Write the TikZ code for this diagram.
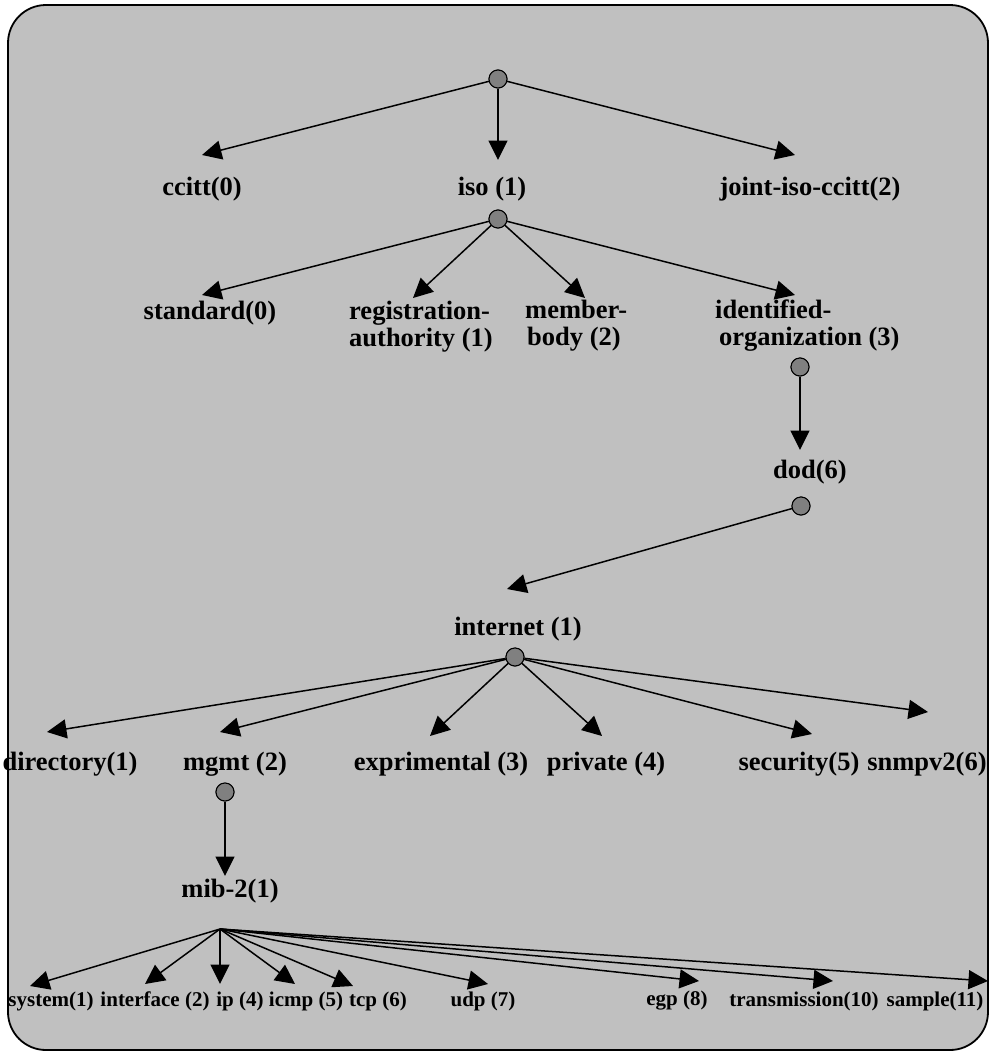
\documentclass[tikz,border=0pt]{standalone}
\usepackage{fontspec}
\setmainfont{Liberation Serif}
\usetikzlibrary{arrows.meta}
\definecolor{bg}{HTML}{C0C0C0}
\definecolor{dotc}{HTML}{808080}
\begin{document}
\begin{tikzpicture}[x=1pt,y=-1pt,
  big/.style={font=\fontsize{26.5}{27}\selectfont\bfseries, inner sep=0pt, align=left},
  small/.style={font=\fontsize{21}{22}\selectfont\bfseries, inner sep=0pt},
  dot/.style={circle, fill=dotc, draw=black, line width=1pt, minimum size=18pt, inner sep=0pt},
  edge/.style={line width=1.5pt, -{Triangle[length=19.5pt,width=19pt]}}]
\useasboundingbox (0,0) rectangle (990,1058);
\draw[fill=bg, line width=1.8pt, rounded corners=38pt] (8,5) rectangle (988,1050);

% circles
\node[dot] (root) at (498,79) {};
\node[dot] (ciso) at (498,219) {};
\node[dot] (cido) at (800,367) {};
\node[dot] (cdod) at (801,506) {};
\node[dot] (cint) at (515,657) {};
\node[dot] (cmgmt) at (225,792) {};
\coordinate (cmib) at (220,929);

% labels
\node[big] (ccitt) at (202,189) {ccitt(0)};
\node[big] (iso) at (492,189) {iso (1)};
\node[big] (joint) at (810,189) {joint-iso-ccitt(2)};
\node[big] (standard) at (210,313) {standard(0)};
\node[big, anchor=west] (reg) at (349,326.5) {registration-\\authority (1)};
\node[big, anchor=west] (member) at (525,325.5) {member-\\\hspace*{2pt}body (2)};
\node[big, anchor=west] (ident) at (715,325.5) {identified-\\\hspace*{4pt}organization (3)};
\node[big] (dod) at (810,472) {dod(6)};
\node[big] (internet) at (518,629) {internet (1)};
\node[big] (directory) at (70,764) {directory(1)};
\node[big] (mgmt) at (235,764) {mgmt (2)};
\node[big] (expr) at (441,764) {exprimental (3)};
\node[big] (private) at (606,764) {private (4)};
\node[big] (security) at (799,764) {security(5)};
\node[big] (snmpv2) at (927,764) {snmpv2(6)};
\node[big] (mib) at (230,891) {mib-2(1)};
\node[small] (system) at (51,1001) {system(1)};
\node[small] (interface) at (155,1001) {interface (2)};
\node[small] (ip) at (240,1001) {ip (4)};
\node[small] (icmp) at (306,1001) {icmp (5)};
\node[small] (tcp) at (378,1001) {tcp (6)};
\node[small] (udp) at (483,1001) {udp (7)};
\node[small] (egp) at (677,1001) {egp (8)};
\node[small] (trans) at (804,1001) {transmission(10)};
\node[small] (sample) at (935,1001) {sample(11)};

% arrow tips
\coordinate (tccitt) at (202,155);
\coordinate (tiso) at (498,160);
\coordinate (tjoint) at (795,155);
\coordinate (tstandard) at (202,295);
\coordinate (treg) at (413,298);
\coordinate (tmember) at (585,298);
\coordinate (tident) at (795,295);
\coordinate (tdod) at (800,450);
\coordinate (tinternet) at (507,589);
\coordinate (tdirectory) at (47,732);
\coordinate (tmgmt) at (220,732);
\coordinate (texpr) at (430,736);
\coordinate (tprivate) at (602,736);
\coordinate (tsecurity) at (812,734);
\coordinate (tsnmpv2) at (928,712);
\coordinate (tmib) at (225,876);
\coordinate (tsystem) at (30,986);
\coordinate (tinterface) at (145,984);
\coordinate (tip) at (220,984);
\coordinate (ticmp) at (295,984);
\coordinate (ttcp) at (353,986);
\coordinate (tudp) at (488,984);
\coordinate (tegp) at (699,981);
\coordinate (ttrans) at (833,981);
\coordinate (tsample) at (988,981);

% connectors
\draw[edge] (root) -- (tccitt);
\draw[edge] (root) -- (tiso);
\draw[edge] (root) -- (tjoint);
\draw[edge] (ciso) -- (tstandard);
\draw[edge] (ciso) -- (treg);
\draw[edge] (ciso) -- (tmember);
\draw[edge] (ciso) -- (tident);
\draw[edge] (cido) -- (tdod);
\draw[edge] (cdod) -- (tinternet);
\draw[edge] (cint) -- (tdirectory);
\draw[edge] (cint) -- (tmgmt);
\draw[edge] (cint) -- (texpr);
\draw[edge] (cint) -- (tprivate);
\draw[edge] (cint) -- (tsecurity);
\draw[edge] (cint) -- (tsnmpv2);
\draw[edge] (cmgmt) -- (tmib);
\foreach \t in {tsystem,tinterface,tip,ticmp,ttcp,tudp,tegp,ttrans,tsample}
  \draw[edge] (cmib) -- (\t);
% redraw circles on top
\node[dot] at (root) {};
\node[dot] at (ciso) {};
\node[dot] at (cido) {};
\node[dot] at (cdod) {};
\node[dot] at (cint) {};
\node[dot] at (cmgmt) {};
\end{tikzpicture}
\end{document}
